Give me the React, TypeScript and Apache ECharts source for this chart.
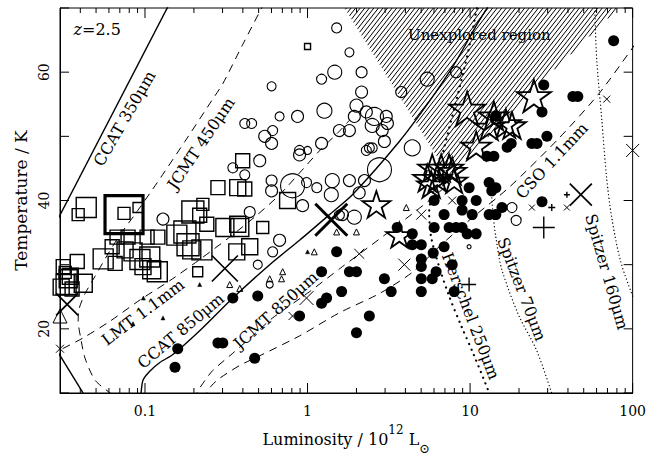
import React, { useEffect, useRef } from 'react';
import * as echarts from 'echarts';

const FONT = '"DejaVu Serif", serif';

// ---------- axes ----------
const xMin = 0.03;
const xMax = 100;
const yMin = 10;
const yMax = 70;
const xTickValues = [0.1, 1, 10, 100];
const xTickLabels = ['0.1', '1', '10', '100'];
const xMinorTicks = [0.04, 0.05, 0.06, 0.07, 0.08, 0.09, 0.2, 0.3, 0.4, 0.5, 0.6, 0.7, 0.8, 0.9,
  2, 3, 4, 5, 6, 7, 8, 9, 20, 30, 40, 50, 60, 70, 80, 90];
const yTickValues = [10, 20, 30, 40, 50, 60, 70];
const yLabelValues = [20, 40, 60];
const yLabelTexts = ['20', '40', '60'];

// ---------- selection curves [L (1e12 Lsun), T (K)] ----------
const ccat350Upper = [[0.026, 34.7], [0.147, 71.5]];
const ccat350Lower = [[0.026, 18.4], [0.046, 8.2]];
const jcmt450 = [[0.545, 70.9], [0.522, 70], [0.399, 64.3], [0.301, 58.2], [0.261, 55.8], [0.176, 49.2],
  [0.119, 42.8], [0.0906, 38.5], [0.07, 34.6], [0.0593, 31.7], [0.0493, 28.2], [0.0428, 25.5],
  [0.0394, 23.2], [0.0388, 21.2], [0.04, 18.9], [0.0428, 15.4], [0.0493, 12.0], [0.061, 10.0], [0.07, 8.9]];
const lmt11 = [[0.0261, 16.0], [0.0305, 16.8], [0.0417, 18.6], [0.061, 21.2], [0.0931, 24.5], [0.142, 27.5],
  [0.217, 30.8], [0.332, 34.3], [0.487, 37.7], [0.673, 40.9], [0.893, 44.3], [1.18, 47.7], [1.57, 50.8], [1.81, 52.5]];
const ccat850 = [[0.0931, 8.8], [0.0945, 10.0], [0.0972, 12.0], [0.107, 13.4], [0.124, 14.8], [0.1485, 16.0],
  [0.217, 19.7], [0.347, 24.8], [0.585, 30.0], [0.893, 33.8], [1.365, 37.8], [1.888, 40.9], [3.67, 49.2],
  [5.6, 55.4], [7.98, 61.2], [11.0, 67.4], [13.1, 70.5]];
const jcmt850 = [[0.2055, 8.9], [0.2085, 10], [0.227, 11.5], [0.261, 13.5], [0.347, 16.2], [0.473, 19.2],
  [0.61, 21.7], [1.03, 25.8], [1.64, 29.7], [3.05, 34.8], [5.6, 40.0], [7.64, 42.9]];
const cso11 = [[0.2335, 8.9], [0.24, 10.0], [0.2577, 11.2], [0.288, 12.3], [0.383, 14.3], [0.508, 15.8],
  [0.893, 18.9], [1.57, 22.5], [2.77, 25.5], [4.41, 28.8], [6.45, 32.8], [9.86, 36.9], [17.3, 42.0],
  [35.2, 49.7], [61.8, 56.6], [100, 63.8], [110, 65.3]];
const herschel250 = [[13.5, 8.8], [13.1, 10], [10.6, 15.8], [8.81, 20.5], [7.43, 25.1], [6.45, 29.7],
  [5.76, 34.3], [5.6, 38.2], [6.01, 42], [6.92, 48.2], [7.98, 54.3], [9.19, 60.5], [10.1, 65.1], [11.0, 70]];
const spitzer70 = [[32.5, 9], [31.8, 10], [25.4, 16.9], [20.0, 22], [15.7, 29.2], [14.4, 34.3], [13.8, 38.2], [13.5, 42]];
const spitzer160 = [[58.5, 70], [60.1, 62], [64.5, 52.8], [69.2, 43.5], [74.3, 37.4], [84.4, 30.5], [100, 25.1]];
const unexploredRegion = [[1.69, 70], [82.1, 70], [40.5, 62.5], [25.4, 57.8], [20.0, 54.8], [7.43, 43.8]];

// ---------- sources [L, T, size] ----------
const squareData = [
  [0.0314, 29.7, 14], [0.0383, 30.5, 14], [0.0337, 27.8, 18], [0.0327, 26.9, 20], [0.0417, 27.1, 18],
  [0.0305, 26.5, 16], [0.0356, 26.2, 14], [0.0323, 28.8, 12], [0.0347, 28.2, 16],
  [0.0435, 38.9, 20], [0.0388, 37.8, 12], [0.0743, 38.0, 12], [0.0906, 38.9, 10],
  [0.0553, 30.9, 20], [0.0628, 32.8, 14], [0.0655, 30.2, 14], [0.0754, 32.3, 16], [0.0844, 32.0, 18],
  [0.0931, 30.8, 20], [0.0972, 29.7, 16], [0.11, 29.2, 18], [0.119, 28.9, 20], [0.0787, 34.3, 14],
  [0.0673, 34.3, 14], [0.107, 31.2, 20], [0.12, 34.3, 14], [0.103, 34.3, 14],
  [0.197, 38.2, 22], [0.217, 37.7, 14], [0.176, 35.1, 22], [0.157, 34.6, 20], [0.184, 33.1, 22],
  [0.194, 32.3, 18], [0.224, 32.3, 20], [0.24, 36.3, 14], [0.31, 35.8, 18], [0.383, 35.8, 18],
  [0.372, 36.3, 16], [0.441, 32.8, 16], [0.367, 32.0, 16], [0.53, 35.8, 12], [0.211, 28.9, 10],
  [0.399, 46.2, 14], [0.281, 42.0, 14], [0.372, 42.0, 16], [0.411, 41.8, 14], [0.754, 40.0, 16],
  [1.0, 64.0, 6], [0.227, 39.4, 12]
];
const bigSquareData = [[0.0743, 37.8, 38]];
const circleData = [
  [1.51, 66.9, 10], [1.81, 63.1, 9], [1.47, 60, 14], [2.15, 60, 11], [1.22, 58.9, 10], [0.601, 57.8, 9],
  [2.15, 56.9, 12], [3.77, 56.9, 11], [2.0, 54.8, 13], [1.27, 54.0, 15], [0.673, 53.1, 9], [0.868, 53.1, 12],
  [2.3, 53.8, 12], [2.58, 53.1, 18], [3.05, 53.1, 12], [1.94, 53.1, 12], [0.411, 52.0, 10], [0.453, 52.0, 10],
  [1.57, 50.9, 12], [1.81, 50.9, 12], [3.1, 52.0, 12], [2.88, 50.9, 12], [2.5, 51.7, 14], [0.61, 50.9, 10],
  [0.545, 50.0, 12], [0.601, 48.9, 12], [1.22, 48.9, 12], [2.97, 49.2, 12], [2.3, 47.8, 10], [2.4, 48.2, 10],
  [2.5, 48.2, 10], [0.893, 47.8, 10], [1.0, 47.8, 8], [0.893, 47.1, 12], [4.41, 48.2, 16], [0.508, 46.2, 12],
  [0.347, 45.1, 10], [0.411, 44.0, 10], [2.77, 44.8, 24], [0.809, 42.3, 24], [0.601, 43.1, 11],
  [0.601, 41.5, 12], [0.986, 42.8, 10], [1.14, 42.0, 10], [1.42, 43.1, 14], [1.81, 43.1, 12],
  [2.24, 43.1, 12], [1.4, 40.9, 14], [2.08, 41.2, 12], [0.932, 39.2, 12], [0.441, 38.2, 11],
  [1.57, 37.7, 10], [1.94, 37.4, 14], [1.64, 37.8, 12], [5.45, 58.9, 14], [8.2, 60, 11], [0.129, 37.1, 12],
  [0.673, 33.8, 12], [0.61, 32.0, 10], [0.494, 30.0, 9], [0.585, 26.9, 7], [18.1, 38.9, 10], [19.2, 36.9, 10],
  [9.86, 32.8, 4]
];
const filledData = [
  [76.4, 64.9], [28.4, 58.0], [27.7, 53.8], [42.9, 56.2], [46.0, 56.2], [29.7, 50.0], [24.0, 48.9],
  [25.8, 48.9], [16.9, 48.3], [17.9, 48.9], [12.7, 46.9], [14.0, 46.9], [13.1, 42.8], [14.4, 42.0],
  [9.86, 42.0], [8.93, 38.5], [10.3, 37.8], [27.7, 39.8], [14.4, 53.2], [6.01, 40.0], [6.92, 37.8],
  [6.01, 35.8], [7.43, 35.8], [8.2, 35.8], [8.93, 35.8], [9.59, 34.8], [10.9, 34.8], [6.92, 32.8],
  [5.93, 31.8], [6.18, 28.9], [5.85, 27.8], [7.76, 30.0], [7.98, 25.8], [8.93, 40.0], [10.9, 40.0],
  [13.6, 41.5], [13.1, 37.8], [15.7, 38.9], [14.4, 37.8], [3.56, 35.8], [4.41, 34.8], [4.41, 33.1],
  [5.01, 33.1], [5.01, 30.9], [5.01, 29.7], [5.01, 27.8], [5.01, 25.8], [2.97, 27.8], [3.27, 25.8],
  [2.4, 22.0], [2.0, 19.4], [1.51, 32.0], [1.62, 25.8], [1.31, 24.8], [1.22, 24.0], [1.22, 28.9],
  [1.81, 28.9], [2.0, 28.9], [0.893, 22.0], [0.494, 25.1], [0.347, 24.8], [0.281, 17.8], [0.301, 17.8],
  [0.159, 16.9], [0.153, 14.0], [0.473, 15.4]
];
const starData = [
  [9.59, 54.3, 36], [14.0, 53.2, 30], [16.6, 52.0, 30], [13.1, 51.5, 28], [18.1, 51.7, 28], [24.7, 56.3, 34],
  [10.9, 48.5, 30], [5.85, 45.1, 28], [6.64, 45.1, 28], [7.43, 45.1, 28], [5.45, 43.5, 28], [6.28, 43.5, 28],
  [7.76, 44.6, 28], [5.76, 42.5, 28], [7.98, 43.1, 26], [2.65, 39.4, 28], [3.67, 34.6, 26]
];
const thickCrossData = [[1.4, 37.0, 32]];
const crossData = [[0.31, 29.4, 26], [48.0, 40.9, 22], [0.0332, 23.8, 22]];
const smallCrossData = [[7.76, 40.0, 8], [5.01, 37.8, 10], [3.94, 30.0, 12], [2.08, 31.7, 10], [0.986, 24.8, 14],
  [0.809, 22.0, 8], [69.3, 55.8, 7], [24.0, 38.9, 6], [39.4, 38.9, 6], [0.03, 16.9, 8], [100, 47.8, 13]];
const plusData = [[28.4, 35.8, 22], [9.86, 26.9, 14], [31.8, 38.9, 7], [39.4, 40.9, 6]];
const triangleData = [[1.51, 35.1, 6], [2.0, 35.1, 6], [1.1, 32.0, 6], [0.703, 28.9, 6], [0.585, 27.8, 6],
  [0.692, 27.8, 6], [0.332, 26.9, 6], [0.383, 26.3, 6], [4.05, 38.9, 6], [0.03, 22.0, 14]];
const tinyData = [[1.0, 32.0, 4], [0.217, 26.9, 4], [0.0977, 24.8, 4], [0.0844, 20.8, 4], [0.129, 21.7, 4]];

// ---------- annotations ----------
const annotations = [
  { text: '{i|z}=2.5', at: [0.0508, 66.6], rotate: 0, size: 16 },
  { text: 'CCAT 350μm', at: [0.0749, 52.8], rotate: 60, size: 16 },
  { text: 'JCMT 450μm', at: [0.221, 48.9], rotate: 56, size: 16 },
  { text: 'LMT 1.1mm', at: [0.0972, 22.6], rotate: 37, size: 16 },
  { text: 'CCAT 850μm', at: [0.166, 19.7], rotate: 40, size: 16 },
  { text: 'JCMT 850μm', at: [0.637, 22.9], rotate: 42, size: 16 },
  { text: 'CSO 1.1mm', at: [31.8, 46.2], rotate: 47, size: 16 },
  { text: 'Herschel 250μm', at: [10.1, 22.0], rotate: -69, size: 16 },
  { text: 'Spitzer 70μm', at: [20.8, 26.2], rotate: -69, size: 16 },
  { text: 'Spitzer 160μm', at: [69.3, 28.9], rotate: -74, size: 16 },
  { text: 'Unexplored region', at: [11.4, 65.8], rotate: 0, size: 15 }
];

const STAR = 'path://M50,0L61.2,34.5L97.6,34.5L68.2,55.9L79.4,90.5L50,69.1L20.6,90.5L31.8,55.9L2.4,34.5L38.8,34.5Z';
const CROSS = 'path://M0,0L10,10M10,0L0,10';
const PLUS = 'path://M5,0L5,10M0,5L10,5';

function hatchRender(params: any, api: any) {
  const pts = unexploredRegion.map((p) => api.coord(p));
  const ang = (52 * Math.PI) / 180;
  const dx = Math.cos(ang), dy = -Math.sin(ang);
  const nx = -dy, ny = dx;
  const cs = pts.map((p: number[]) => nx * p[0] + ny * p[1]);
  const cmin = Math.min(...cs), cmax = Math.max(...cs);
  const children: any[] = [];
  for (let c = cmin + 1.5; c < cmax; c += 3.6) {
    const hits: number[][] = [];
    for (let i = 0; i < pts.length; i++) {
      const a = pts[i], b = pts[(i + 1) % pts.length];
      const fa = nx * a[0] + ny * a[1] - c, fb = nx * b[0] + ny * b[1] - c;
      if ((fa < 0) !== (fb < 0)) {
        const t = fa / (fa - fb);
        hits.push([a[0] + (b[0] - a[0]) * t, a[1] + (b[1] - a[1]) * t]);
      }
    }
    hits.sort((p, q) => (p[0] * dx + p[1] * dy) - (q[0] * dx + q[1] * dy));
    for (let k = 0; k + 1 < hits.length; k += 2) {
      children.push({ type: 'line', shape: { x1: hits[k][0], y1: hits[k][1], x2: hits[k + 1][0], y2: hits[k + 1][1] },
        style: { stroke: '#000', lineWidth: 1 } });
    }
  }
  return { type: 'group', children };
}

function tickRender(params: any, api: any) {
  const children: any[] = [];
  const add = (x1: number, y1: number, x2: number, y2: number) =>
    children.push({ type: 'line', shape: { x1, y1, x2, y2 }, style: { stroke: '#000', lineWidth: 1 } });
  const yb = api.coord([1, yMin])[1], yt = api.coord([1, yMax])[1];
  const xl = api.coord([xMin, 40])[0], xr = api.coord([xMax, 40])[0];
  xTickValues.forEach((v) => { const x = api.coord([v, 40])[0]; add(x, yb, x, yb - 10); add(x, yt, x, yt + 10); });
  xMinorTicks.forEach((v) => { const x = api.coord([v, 40])[0]; add(x, yb, x, yb - 5); add(x, yt, x, yt + 5); });
  yTickValues.forEach((v) => { const y = api.coord([1, v])[1]; add(xl, y, xl + 9, y); add(xr, y, xr - 9, y); });
  return { type: 'group', children };
}

const line = (data: number[][], type: any, width = 1, smooth: any = 0.25, cap = 'butt') => ({
  type: 'line', data, showSymbol: false, symbol: 'none', smooth, silent: true, z: 2,
  lineStyle: { color: '#000', width, type, cap }
});

const scatter = (data: number[][], symbol: string, opts: any = {}) => ({
  type: 'scatter', data, symbol, silent: true, clip: false, z: 3,
  symbolKeepAspect: true,
  symbolSize: opts.size ? opts.size : (v: number[]) => v[2],
  itemStyle: { color: opts.fill || 'rgba(0,0,0,0)', borderColor: '#000', borderWidth: opts.lw ?? 1.2, opacity: 1 }
});

export default function App() {
  const ref = useRef<HTMLDivElement>(null);
  useEffect(() => {
    const chart = echarts.init(ref.current!, null, { renderer: 'svg' });
    const option: any = {
      animation: false,
      backgroundColor: '#fff',
      grid: { left: 60, right: 16, top: 8, bottom: 61, show: true, borderColor: '#000', borderWidth: 1 },
      xAxis: {
        type: 'log', logBase: 10, min: xMin, max: xMax,
        axisLine: { show: true, lineStyle: { color: '#000' } }, axisTick: { show: false }, splitLine: { show: false },
        axisLabel: {
          color: '#000', fontFamily: FONT, fontSize: 14, margin: 11,
          formatter: (v: number) => {
            const i = xTickValues.findIndex((t) => Math.abs(Math.log10(v) - Math.log10(t)) < 1e-6);
            return i >= 0 ? xTickLabels[i] : '';
          }
        },
        name: 'Luminosity / 10{sup|12} L{sub|⊙}', nameLocation: 'middle', nameGap: 31,
        nameTextStyle: {
          color: '#000', fontFamily: FONT, fontSize: 16, lineHeight: 31,
          rich: {
            sup: { fontFamily: FONT, fontSize: 12, verticalAlign: 'top', lineHeight: 31, color: '#000' },
            sub: { fontFamily: FONT, fontSize: 13, verticalAlign: 'bottom', lineHeight: 31, color: '#000' }
          }
        }
      },
      yAxis: {
        type: 'value', min: yMin, max: yMax, interval: 10,
        axisLine: { show: true, lineStyle: { color: '#000' } }, axisTick: { show: false }, splitLine: { show: false },
        axisLabel: {
          color: '#000', fontFamily: FONT, fontSize: 14, rotate: 90, margin: 9,
          formatter: (v: number) => {
            const i = yLabelValues.indexOf(Math.round(v));
            return i >= 0 ? yLabelTexts[i] : '';
          }
        },
        name: 'Temperature / K', nameLocation: 'middle', nameGap: 28,
        nameTextStyle: { color: '#000', fontFamily: FONT, fontSize: 17 }
      },
      series: [
        { type: 'custom', renderItem: hatchRender, data: [[10, 60]], silent: true, z: 1 },
        line(ccat350Upper, 'solid', 1.4, false),
        line(ccat350Lower, 'solid', 1.4, false),
        line(jcmt450, [8, 6], 1, 0.25),
        line(lmt11, [8, 6], 1, 0.25),
        line(ccat850, 'solid', 1.4, 0.25),
        line(jcmt850, [8, 6], 1, 0.25),
        line(cso11, [8, 6], 1, 0.25),
        line(herschel250, [0.1, 6], 2.2, 0.3, 'round'),
        line(spitzer70, [0.1, 3.5], 1.3, 0.3, 'round'),
        line(spitzer160, [0.1, 3.5], 1.3, 0.3, 'round'),
        scatter(squareData, 'rect', { lw: 1.4 }),
        scatter(bigSquareData, 'rect', { lw: 3.2 }),
        scatter(circleData, 'circle', { lw: 1.1 }),
        scatter(filledData, 'circle', { size: 11, fill: '#000', lw: 0 }),
        scatter(starData, STAR, { lw: 1.8 }),
        scatter(thickCrossData, CROSS, { lw: 3 }),
        scatter(crossData, CROSS, { lw: 1.7 }),
        scatter(smallCrossData, CROSS, { lw: 1 }),
        scatter(plusData, PLUS, { lw: 1.4 }),
        scatter(triangleData, 'triangle', { lw: 1 }),
        scatter(tinyData, 'triangle', { fill: '#000', lw: 0.5 }),
        { type: 'custom', renderItem: tickRender, data: [[1, 40]], silent: true, z: 5 },
        {
          type: 'scatter', silent: true, clip: false, z: 6, symbolSize: 1,
          itemStyle: { color: 'rgba(0,0,0,0)' },
          label: {
            show: true, position: 'inside', color: '#000', fontFamily: FONT, fontSize: 16,
            textBorderWidth: 0, textBorderColor: 'transparent', textShadowBlur: 0, opacity: 1,
            rich: { i: { fontStyle: 'italic', fontFamily: FONT, fontSize: 16, color: '#000', textBorderWidth: 0 } }
          },
          data: annotations.map((a) => ({
            value: a.at,
            label: { rotate: a.rotate, fontSize: a.size, formatter: a.text, color: '#000', textBorderWidth: 0 }
          }))
        }
      ]
    };
    chart.setOption(option);
    return () => chart.dispose();
  }, []);
  return <div ref={ref} style={{ position: 'fixed', left: 0, top: 0, width: 649, height: 460, background: '#fff' }} />;
}
